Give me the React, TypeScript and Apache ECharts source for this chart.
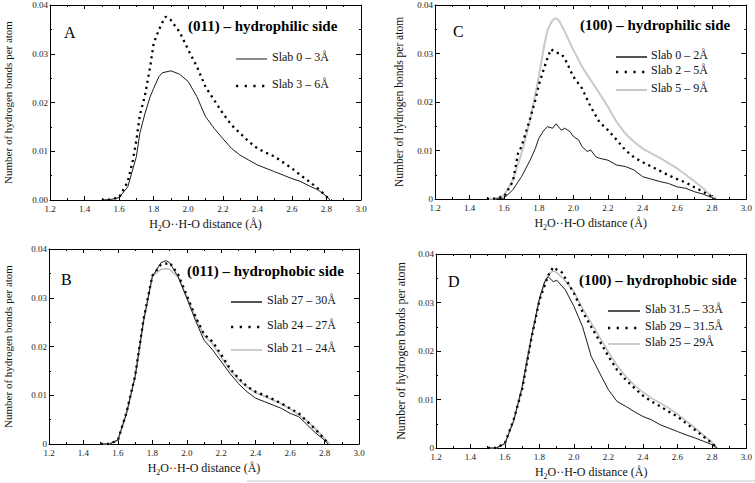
import React, { useEffect, useRef } from "react";
import * as echarts from "echarts";

// ---------- DATA ----------
const xTicks = [1.2, 1.4, 1.6, 1.8, 2.0, 2.2, 2.4, 2.6, 2.8, 3.0];
const yTicks = [0, 0.01, 0.02, 0.03, 0.04];

const panelTitles = ["(011) – hydrophilic side", "(011) – hydrophobic side", "(100) – hydrophilic side", "(100) – hydrophobic side"];
const panelLetters = ["A", "B", "C", "D"];

const legendA = ["Slab 0 – 3Å", "Slab 3 – 6Å"];
const legendB = ["Slab 27 – 30Å", "Slab 24 – 27Å", "Slab 21 – 24Å"];
const legendC = ["Slab 0 – 2Å", "Slab 2 – 5Å", "Slab 5 – 9Å"];
const legendD = ["Slab 31.5 – 33Å", "Slab 29 – 31.5Å", "Slab 25 – 29Å"];

// Panel A
const aSlab0to3 = [[1.50,0],[1.55,0.0001],[1.60,0.0005],[1.65,0.0027],[1.70,0.0089],[1.72,0.0137],[1.75,0.0178],[1.78,0.0212],[1.80,0.0229],[1.83,0.0253],[1.85,0.0261],[1.90,0.0265],[1.95,0.0258],[2.00,0.0243],[2.05,0.0212],[2.10,0.0171],[2.15,0.0147],[2.20,0.0126],[2.25,0.0106],[2.30,0.0092],[2.35,0.0082],[2.40,0.0072],[2.45,0.0065],[2.50,0.0058],[2.55,0.0051],[2.60,0.0044],[2.65,0.0038],[2.70,0.0029],[2.75,0.0021],[2.80,0.0008],[2.82,0]];
const aSlab3to6 = [[1.50,0],[1.55,0.0001],[1.60,0.0005],[1.65,0.0038],[1.68,0.0082],[1.70,0.0123],[1.72,0.0174],[1.75,0.0215],[1.78,0.0274],[1.80,0.0321],[1.83,0.0349],[1.85,0.0364],[1.87,0.0376],[1.90,0.0369],[1.92,0.0359],[1.95,0.0345],[2.00,0.0308],[2.05,0.0274],[2.10,0.0232],[2.15,0.0205],[2.20,0.0178],[2.25,0.0154],[2.30,0.0137],[2.35,0.0120],[2.40,0.0106],[2.45,0.0097],[2.50,0.0089],[2.55,0.0077],[2.60,0.0065],[2.65,0.0051],[2.70,0.0038],[2.75,0.0024],[2.80,0.0007],[2.83,0]];

// Panel B
const bSlab27to30 = [[1.50,0],[1.55,0],[1.60,0.0008],[1.65,0.0063],[1.70,0.0138],[1.75,0.0254],[1.80,0.0343],[1.85,0.0372],[1.88,0.0376],[1.90,0.0372],[1.95,0.0343],[2.00,0.0299],[2.05,0.0254],[2.10,0.0213],[2.15,0.0193],[2.20,0.0169],[2.25,0.0145],[2.30,0.0124],[2.35,0.0107],[2.40,0.0094],[2.45,0.0087],[2.50,0.0080],[2.55,0.0073],[2.60,0.0063],[2.65,0.0056],[2.70,0.0039],[2.75,0.0022],[2.80,0.0008],[2.82,0]];
const bSlab24to27 = [[1.50,0],[1.55,0],[1.60,0.0008],[1.65,0.0065],[1.70,0.0140],[1.75,0.0258],[1.80,0.0345],[1.85,0.0368],[1.88,0.0370],[1.90,0.0372],[1.95,0.0348],[2.00,0.0305],[2.05,0.0262],[2.10,0.0225],[2.15,0.0210],[2.20,0.0183],[2.25,0.0155],[2.30,0.0135],[2.35,0.0118],[2.40,0.0107],[2.45,0.0100],[2.50,0.0092],[2.55,0.0083],[2.60,0.0073],[2.65,0.0063],[2.70,0.0046],[2.75,0.0029],[2.80,0.0010],[2.82,0]];
const bSlab21to24 = [[1.50,0],[1.55,0],[1.60,0.0008],[1.65,0.0062],[1.70,0.0138],[1.75,0.0255],[1.80,0.0345],[1.85,0.0358],[1.88,0.0360],[1.90,0.0358],[1.95,0.0342],[2.00,0.0302],[2.05,0.0260],[2.10,0.0222],[2.15,0.0205],[2.20,0.0178],[2.25,0.0152],[2.30,0.0132],[2.35,0.0117],[2.40,0.0105],[2.45,0.0098],[2.50,0.0090],[2.55,0.0082],[2.60,0.0072],[2.65,0.0060],[2.70,0.0047],[2.75,0.0030],[2.80,0.0012],[2.83,0]];

// Panel C
const cSlab0to2 = [[1.55,0],[1.60,0.0002],[1.65,0.0019],[1.70,0.0046],[1.75,0.0080],[1.78,0.0104],[1.80,0.0125],[1.83,0.0142],[1.85,0.0149],[1.88,0.0146],[1.90,0.0155],[1.93,0.0142],[1.95,0.0146],[1.98,0.0139],[2.00,0.0129],[2.03,0.0122],[2.05,0.0108],[2.08,0.0098],[2.10,0.0101],[2.13,0.0087],[2.15,0.0084],[2.20,0.0080],[2.25,0.0070],[2.30,0.0067],[2.35,0.0060],[2.40,0.0046],[2.45,0.0041],[2.50,0.0036],[2.55,0.0032],[2.60,0.0025],[2.65,0.0022],[2.70,0.0015],[2.75,0.0010],[2.80,0.0003],[2.82,0]];
const cSlab2to5 = [[1.50,0],[1.55,0.0001],[1.60,0.0005],[1.65,0.0036],[1.68,0.0094],[1.70,0.0108],[1.75,0.0166],[1.78,0.0204],[1.80,0.0235],[1.83,0.0269],[1.85,0.0290],[1.87,0.0309],[1.90,0.0302],[1.93,0.0299],[1.95,0.0290],[2.00,0.0252],[2.05,0.0228],[2.10,0.0190],[2.15,0.0159],[2.20,0.0142],[2.25,0.0122],[2.30,0.0101],[2.35,0.0086],[2.40,0.0076],[2.45,0.0067],[2.50,0.0058],[2.55,0.0049],[2.60,0.0041],[2.65,0.0034],[2.70,0.0024],[2.75,0.0015],[2.80,0.0005],[2.82,0]];
const cSlab5to9 = [[1.50,0],[1.55,0.0001],[1.60,0.0008],[1.65,0.0039],[1.70,0.0094],[1.75,0.0163],[1.80,0.0252],[1.83,0.0314],[1.85,0.0348],[1.88,0.0369],[1.90,0.0373],[1.92,0.0366],[1.95,0.0345],[2.00,0.0307],[2.05,0.0273],[2.10,0.0245],[2.15,0.0218],[2.20,0.0190],[2.25,0.0159],[2.30,0.0135],[2.35,0.0118],[2.40,0.0104],[2.45,0.0094],[2.50,0.0085],[2.55,0.0074],[2.60,0.0063],[2.65,0.0050],[2.70,0.0036],[2.75,0.0022],[2.80,0.0005],[2.82,0]];

// Panel D
const dSlab315to33 = [[1.50,0],[1.55,0],[1.60,0.0009],[1.65,0.0055],[1.70,0.0127],[1.75,0.0223],[1.80,0.0309],[1.83,0.0343],[1.85,0.0353],[1.88,0.0343],[1.90,0.0346],[1.95,0.0326],[2.00,0.0292],[2.05,0.0250],[2.10,0.0189],[2.15,0.0154],[2.20,0.0120],[2.25,0.0096],[2.30,0.0086],[2.35,0.0075],[2.40,0.0065],[2.45,0.0058],[2.50,0.0048],[2.55,0.0041],[2.60,0.0034],[2.65,0.0027],[2.70,0.0021],[2.75,0.0014],[2.80,0.0007],[2.83,0]];
const dSlab29to315 = [[1.50,0],[1.55,0],[1.60,0.0010],[1.65,0.0058],[1.70,0.0122],[1.75,0.0220],[1.80,0.0305],[1.83,0.0335],[1.85,0.0355],[1.88,0.0373],[1.90,0.0368],[1.93,0.0362],[1.95,0.0350],[2.00,0.0319],[2.05,0.0281],[2.10,0.0250],[2.15,0.0220],[2.20,0.0189],[2.25,0.0161],[2.30,0.0141],[2.35,0.0124],[2.40,0.0108],[2.45,0.0096],[2.50,0.0086],[2.55,0.0075],[2.60,0.0065],[2.65,0.0051],[2.70,0.0038],[2.75,0.0024],[2.80,0.0010],[2.83,0]];
const dSlab25to29 = [[1.50,0],[1.55,0],[1.60,0.0010],[1.65,0.0057],[1.70,0.0122],[1.75,0.0222],[1.80,0.0305],[1.83,0.0340],[1.85,0.0358],[1.88,0.0365],[1.90,0.0362],[1.95,0.0345],[2.00,0.0322],[2.05,0.0288],[2.10,0.0258],[2.15,0.0228],[2.20,0.0198],[2.25,0.0170],[2.30,0.0148],[2.35,0.0130],[2.40,0.0115],[2.45,0.0103],[2.50,0.0093],[2.55,0.0082],[2.60,0.0070],[2.65,0.0056],[2.70,0.0042],[2.75,0.0027],[2.80,0.0012],[2.83,0]];

// ---------- STYLE / LAYOUT ----------
const SERIF = "Liberation Serif";
const STYLE_SOLID = { type: "solid", width: 1, color: "#1a1a1a" };
const STYLE_DOT = { type: [2.2, 4], width: 2.3, color: "#000", cap: "butt" };
const STYLE_GRAY = { type: "solid", width: 2, color: "#c9c9c9" };
const STYLE_GRAY_THIN = { type: "solid", width: 1.5, color: "#bdbdbd" };

type Panel = {
  grid: { left: number; top: number; width: number; height: number };
  zeroLabel: string;
  series: { name: string; data: number[][]; style: any }[];
  letter: { x: number; y: number };
  title: { x: number; y: number };
  legend: { x1: number; x2: number; tx: number; ys: number[] };
  yNameGap: number;
  yNameSize: number;
};

const panels: Panel[] = [
  {
    grid: { left: 50, top: 5, width: 311, height: 195 },
    zeroLabel: "0.00",
    series: [
      { name: legendA[0], data: aSlab0to3, style: STYLE_SOLID },
      { name: legendA[1], data: aSlab3to6, style: STYLE_DOT },
    ],
    letter: { x: 64, y: 34 },
    title: { x: 188, y: 27 },
    legend: { x1: 236, x2: 267, tx: 272, ys: [59, 86] },
    yNameGap: 37,
    yNameSize: 11,
  },
  {
    grid: { left: 49, top: 249, width: 310, height: 195 },
    zeroLabel: "0",
    series: [
      { name: legendB[2], data: bSlab21to24, style: STYLE_GRAY_THIN },
      { name: legendB[1], data: bSlab24to27, style: STYLE_DOT },
      { name: legendB[0], data: bSlab27to30, style: STYLE_SOLID },
    ],
    letter: { x: 61, y: 281 },
    title: { x: 187, y: 272 },
    legend: { x1: 231, x2: 262, tx: 267, ys: [302, 327, 350] },
    yNameGap: 36,
    yNameSize: 11,
  },
  {
    grid: { left: 435, top: 5, width: 313, height: 194 },
    zeroLabel: "0",
    series: [
      { name: legendC[2], data: cSlab5to9, style: STYLE_GRAY },
      { name: legendC[1], data: cSlab2to5, style: STYLE_DOT },
      { name: legendC[0], data: cSlab0to2, style: STYLE_SOLID },
    ],
    letter: { x: 453, y: 33 },
    title: { x: 580, y: 26 },
    legend: { x1: 616, x2: 647, tx: 651, ys: [57, 72, 90] },
    yNameGap: 30,
    yNameSize: 11.5,
  },
  {
    grid: { left: 436, top: 254, width: 311, height: 194 },
    zeroLabel: "0",
    series: [
      { name: legendD[2], data: dSlab25to29, style: STYLE_GRAY_THIN },
      { name: legendD[1], data: dSlab29to315, style: STYLE_DOT },
      { name: legendD[0], data: dSlab315to33, style: STYLE_SOLID },
    ],
    letter: { x: 448, y: 283 },
    title: { x: 579, y: 281 },
    legend: { x1: 608, x2: 640, tx: 645, ys: [311, 328, 344] },
    yNameGap: 29,
    yNameSize: 12,
  },
];

const legendNames = [legendA, legendB, legendC, legendD];
const legendStyles = [
  [STYLE_SOLID, STYLE_DOT],
  [{ ...STYLE_SOLID, width: 1.5 }, STYLE_DOT, STYLE_GRAY_THIN],
  [{ ...STYLE_SOLID, width: 1.5 }, STYLE_DOT, STYLE_GRAY],
  [{ ...STYLE_SOLID, width: 1.5 }, STYLE_DOT, STYLE_GRAY_THIN],
];

function buildOption() {
  const grid: any[] = [];
  const xAxis: any[] = [];
  const yAxis: any[] = [];
  const series: any[] = [];
  const graphic: any[] = [];

  const tickCommon = {
    axisLine: { show: true, onZero: false, lineStyle: { color: "#000", width: 1 } },
    axisTick: { show: true, inside: true, length: 4, lineStyle: { color: "#000", width: 1 } },
    minorTick: { show: true, splitNumber: 2, length: 2, lineStyle: { color: "#000", width: 1 } },
    splitLine: { show: false },
    minorSplitLine: { show: false },
  };

  panels.forEach((p, i) => {
    grid.push({ ...p.grid, containLabel: false });
    const xBase = {
      type: "value",
      gridIndex: i,
      min: xTicks[0],
      max: xTicks[xTicks.length - 1],
      interval: 0.2,
      ...tickCommon,
    };
    xAxis.push({
      ...xBase,
      position: "bottom",
      axisLabel: {
        show: true,
        margin: 4,
        fontSize: 9,
        fontFamily: SERIF,
        color: "#222",
        formatter: (v: number) => v.toFixed(1),
      },
      name: "{n|H}{s|2}{n|O··H-O distance (Å)}",
      nameLocation: "middle",
      nameGap: 15,
      nameTextStyle: {
        verticalAlign: "top",
        rich: {
          n: { fontSize: 12, fontFamily: SERIF, color: "#111" },
          s: { fontSize: 8, fontFamily: SERIF, color: "#111", padding: [9, 0, 0, 0] },
        },
      },
    });
    xAxis.push({ ...xBase, position: "top", axisLabel: { show: false } });

    const yBase = {
      type: "value",
      gridIndex: i,
      min: yTicks[0],
      max: yTicks[yTicks.length - 1],
      interval: 0.01,
      ...tickCommon,
      axisTick: { ...tickCommon.axisTick, length: 5 },
    };
    const zero = p.zeroLabel;
    yAxis.push({
      ...yBase,
      position: "left",
      axisLabel: {
        show: true,
        margin: 2,
        fontSize: 9,
        fontFamily: SERIF,
        color: "#222",
        formatter: (v: number) => (v === 0 ? zero : v.toFixed(2)),
      },
      name: "Number of hydrogen bonds per atom",
      nameLocation: "middle",
      nameGap: p.yNameGap,
      nameTextStyle: { fontSize: p.yNameSize, fontFamily: SERIF, color: "#111" },
    });
    yAxis.push({ ...yBase, position: "right", axisLabel: { show: false } });

    p.series.forEach((s) => {
      series.push({
        type: "line",
        name: s.name,
        xAxisIndex: 2 * i,
        yAxisIndex: 2 * i,
        data: s.data,
        showSymbol: false,
        symbol: "none",
        lineStyle: s.style,
        silent: true,
        z: 3,
      });
    });

    graphic.push({
      type: "text",
      left: p.letter.x,
      top: p.letter.y - 10,
      style: { text: panelLetters[i], fontSize: 16, fontFamily: SERIF, fill: "#000" },
    });
    graphic.push({
      type: "text",
      left: p.title.x,
      top: p.title.y - 9,
      style: { text: panelTitles[i], fontSize: 15, fontWeight: "bold", fontFamily: SERIF, fill: "#000" },
    });
    legendNames[i].forEach((nm, k) => {
      const st: any = legendStyles[i][k];
      const y = p.legend.ys[k];
      graphic.push({
        type: "line",
        shape: { x1: p.legend.x1, y1: y, x2: p.legend.x2, y2: y },
        style: {
          stroke: st.color,
          lineWidth: st.width,
          lineDash: Array.isArray(st.type) ? [2.2, 6.5] : null,
        },
      });
      graphic.push({
        type: "text",
        left: p.legend.tx,
        top: y - 8,
        style: { text: nm, fontSize: 12, fontFamily: SERIF, fill: "#111" },
      });
    });
  });

  graphic.push({
    type: "line",
    shape: { x1: 247, y1: 481, x2: 755, y2: 481 },
    style: { stroke: "#c8c8c8", lineWidth: 1 },
  });

  return {
    animation: false,
    backgroundColor: "#fff",
    grid,
    xAxis,
    yAxis,
    series,
    graphic,
  };
}

export default function App() {
  const ref = useRef<HTMLDivElement>(null);
  useEffect(() => {
    if (!ref.current) return;
    const chart = echarts.init(ref.current, null, { renderer: "svg" });
    chart.setOption(buildOption() as any);
    return () => chart.dispose();
  }, []);
  return (
    <div
      ref={ref}
      style={{ position: "fixed", left: 0, top: 0, width: 755, height: 483, background: "#fff" }}
    />
  );
}
